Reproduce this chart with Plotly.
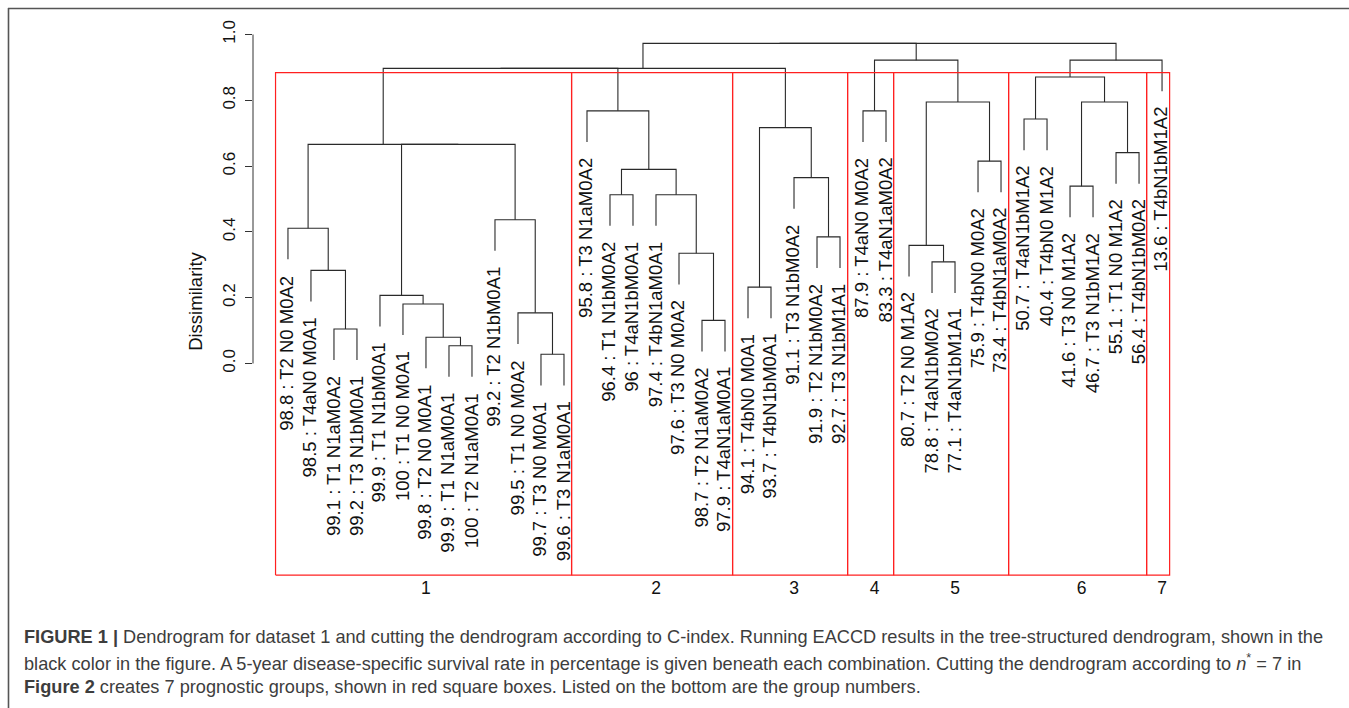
import plotly.graph_objects as go

# ---------------- data ----------------
survival = [98.8, 98.5, 99.1, 99.2, 99.9, 100, 99.8, 99.9, 100, 99.2, 99.5, 99.7, 99.6,
            95.8, 96.4, 96, 97.4, 97.6, 98.7, 97.9,
            94.1, 93.7, 91.1, 91.9, 92.7,
            87.9, 83.3,
            80.7, 78.8, 77.1, 75.9, 73.4,
            50.7, 40.4, 41.6, 46.7, 55.1, 56.4,
            13.6]
combination = ["T2 N0 M0A2", "T4aN0 M0A1", "T1 N1aM0A2", "T3 N1bM0A1", "T1 N1bM0A1",
               "T1 N0 M0A1", "T2 N0 M0A1", "T1 N1aM0A1", "T2 N1aM0A1", "T2 N1bM0A1",
               "T1 N0 M0A2", "T3 N0 M0A1", "T3 N1aM0A1",
               "T3 N1aM0A2", "T1 N1bM0A2", "T4aN1bM0A1", "T4bN1aM0A1", "T3 N0 M0A2",
               "T2 N1aM0A2", "T4aN1aM0A1",
               "T4bN0 M0A1", "T4bN1bM0A1", "T3 N1bM0A2", "T2 N1bM0A2", "T3 N1bM1A1",
               "T4aN0 M0A2", "T4aN1aM0A2",
               "T2 N0 M1A2", "T4aN1bM0A2", "T4aN1bM1A1", "T4bN0 M0A2", "T4bN1aM0A2",
               "T4aN1bM1A2", "T4bN0 M1A2", "T3 N0 M1A2", "T3 N1bM1A2", "T1 N0 M1A2",
               "T4bN1bM0A2",
               "T4bN1bM1A2"]

# hclust-style merge matrix: negative = leaf (order position), positive = earlier merge row
merge_a = [-12, -8, -7, -3, -19, -11, -6, -5, -21, -2, -29, -18, -28, -24, -1, -10, -15, -17,
           -35, -23, 17, -31, -37, 8, 15, 9, -33, -14, -26, 13, 19, 27, 25, 33, 29, 32, 34, 37]
merge_b = [-13, -9, 2, -4, -20, 1, 3, 7, -22, 4, -30, 5, 11, -25, 10, 6, -16, 12,
           -36, 14, 18, -32, -38, 16, 24, 20, -34, 21, -27, 22, 23, 31, 28, 26, 30, -39, 35, 36]
merge_height = [0.028, 0.054, 0.080, 0.105, 0.131, 0.154, 0.181, 0.207, 0.232, 0.283, 0.309,
                0.335, 0.359, 0.385, 0.411, 0.437, 0.513, 0.513, 0.539, 0.565, 0.590, 0.615,
                0.641, 0.666, 0.666, 0.717, 0.743, 0.768, 0.768, 0.795, 0.795, 0.871, 0.897,
                0.897, 0.922, 0.922, 0.973, 0.973]

group_sizes = [13, 7, 5, 2, 5, 6, 1]
group_names = ["1", "2", "3", "4", "5", "6", "7"]
n_groups = 7

y_tick_values = [0.0, 0.2, 0.4, 0.6, 0.8, 1.0]
y_tick_labels = ["0.0", "0.2", "0.4", "0.6", "0.8", "1.0"]

# ---------------- layout constants ----------------
W, H = 1349, 708
ML, MR, MT, MB = 253, 152, 25, 130
PW, PH = W - ML - MR, H - MT - MB
n = len(survival)
ext = 0.04 * (n - 1)
XR = [1 - ext, n + ext]
YR = [-0.652, 1.0289]
BOX_BOTTOM = -0.643
FONT = "Liberation Sans, Arial, sans-serif"


def px_x(p):
    return (p - ML) / PW


def px_y(p):
    return (H - MB - p) / PH


# ---------------- dendrogram geometry ----------------
hang = 0.1 * (max(merge_height) - min(merge_height))
mx = []
seg_x, seg_y = [], []
leaf_end = [None] * (n + 1)
for a, b, h in zip(merge_a, merge_b, merge_height):
    ends = []
    for c in (a, b):
        if c < 0:
            xc, yc = -c, h - hang
            leaf_end[-c] = yc
        else:
            xc, yc = mx[c - 1], merge_height[c - 1]
        ends.append((xc, yc))
    (xa, ya), (xb, yb) = ends
    seg_x += [xa, xa, xb, xb, None]
    seg_y += [ya, h, h, yb, None]
    mx.append((xa + xb) / 2)

fig = go.Figure()
fig.add_trace(go.Scatter(x=seg_x, y=seg_y, mode="lines",
                         line=dict(color="#2a2a2a", width=1.1),
                         hoverinfo="skip", showlegend=False))

# ---------------- cut boxes ----------------
hs = sorted(merge_height, reverse=True)
box_top = (hs[n_groups - 2] + hs[n_groups - 1]) / 2
cum = []
s = 0
for g in group_sizes:
    s += g
    cum.append(s)
rights = [c + 0.33 for c in cum]
lefts = [0.46] + rights[:-1]
bx, by = [], []
for l, r in zip(lefts, rights):
    bx += [l, l, r, r, l, None]
    by += [BOX_BOTTOM, box_top, box_top, BOX_BOTTOM, BOX_BOTTOM, None]
fig.add_trace(go.Scatter(x=bx, y=by, mode="lines",
                         line=dict(color="#ff2020", width=1.2),
                         hoverinfo="skip", showlegend=False))

centers = []
prev = 0
for c, g in zip(cum, group_sizes):
    centers.append(prev + (g + 1) / 2)
    prev = c

# ---------------- leaf labels ----------------
annotations = []
for i in range(1, n + 1):
    annotations.append(dict(
        x=i, y=leaf_end[i], xref="x", yref="y",
        text=f"{survival[i-1]:g} : {combination[i-1]}",
        textangle=-90, showarrow=False, xanchor="center", yanchor="top",
        yshift=-15, xshift=-1, borderpad=0,
        font=dict(family=FONT, size=18.5, color="#111")))

# ---------------- caption ----------------
cap_font = dict(family=FONT, size=18.2, color="#3d3d3d")
cap_lines = [
    "<b>FIGURE 1 |</b> Dendrogram for dataset 1 and cutting the dendrogram according to C-index. "
    "Running EACCD results in the tree-structured dendrogram, shown in the",
    "black color in the figure. A 5-year disease-specific survival rate in percentage is given "
    "beneath each combination. Cutting the dendrogram according to <i>n</i><sup>*</sup> = 7 in",
    "<b>Figure 2</b> creates 7 prognostic groups, shown in red square boxes. Listed on the bottom "
    "are the group numbers.",
]
cap_y = [637, 662, 687]
for t, yy in zip(cap_lines, cap_y):
    annotations.append(dict(x=px_x(22), y=px_y(yy), xref="paper", yref="paper",
                            text=t, showarrow=False, xanchor="left", yanchor="middle",
                            align="left", font=cap_font))

# ---------------- frame + axis line ----------------
shapes = [
    dict(type="line", xref="paper", yref="paper", x0=px_x(8), x1=px_x(W), y0=px_y(8.5), y1=px_y(8.5),
         line=dict(color="#555", width=1.6)),
    dict(type="line", xref="paper", yref="paper", x0=px_x(8.5), x1=px_x(8.5), y0=px_y(8), y1=px_y(H),
         line=dict(color="#555", width=1.6)),
    dict(type="line", xref="paper", yref="y", x0=0, x1=0, y0=y_tick_values[0], y1=y_tick_values[-1],
         line=dict(color="#333", width=1)),
]

fig.update_layout(
    width=W, height=H,
    margin=dict(l=ML, r=MR, t=MT, b=MB, autoexpand=False),
    paper_bgcolor="white", plot_bgcolor="white",
    font=dict(family=FONT, color="#111"),
    showlegend=False,
    annotations=annotations,
    shapes=shapes,
    xaxis=dict(range=XR, showgrid=False, zeroline=False, showline=False, ticks="",
               tickmode="array", tickvals=centers, ticktext=group_names,
               tickfont=dict(family=FONT, size=17.5, color="#111"), ticklabelstandoff=-3,
               fixedrange=True),
    yaxis=dict(range=YR, showgrid=False, zeroline=False, showline=False,
               ticks="outside", ticklen=7, tickwidth=1, tickcolor="#333",
               tickmode="array", tickvals=y_tick_values, ticktext=y_tick_labels,
               tickangle=-90, tickfont=dict(family=FONT, size=17, color="#111"),
               ticklabelstandoff=3,
               title=dict(text="Dissimilarity", standoff=12,
                          font=dict(family=FONT, size=18.5, color="#111")),
               fixedrange=True),
)

fig.write_html("out.html", config={"displayModeBar": False},
               post_script="document.body.style.margin='0';")
